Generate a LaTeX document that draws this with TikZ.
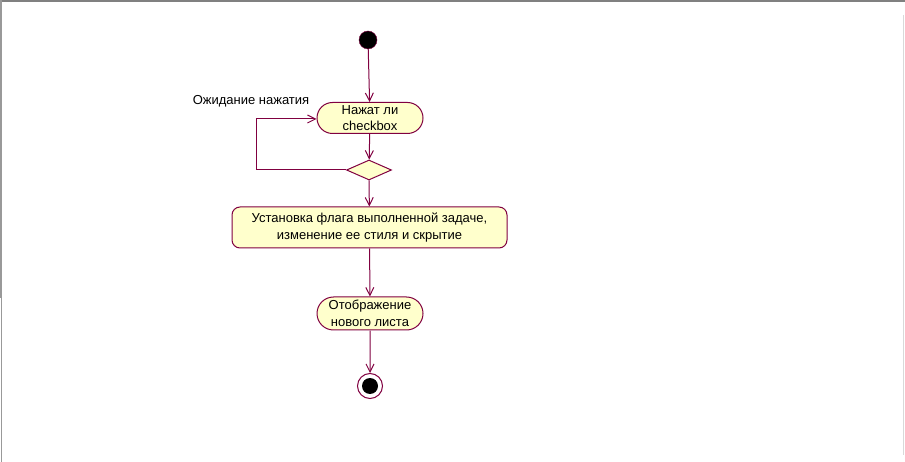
\documentclass[tikz,border=0pt]{standalone}
\usepackage{fontspec}
\setmainfont{Liberation Sans}
\usetikzlibrary{shapes.misc,shapes.geometric,arrows.meta}
\definecolor{roseline}{RGB}{128,0,64}
\definecolor{rosefill}{RGB}{255,255,204}
\tikzset{
  act/.style = {shape = rounded rectangle, draw = roseline, fill = rosefill, line width = 1,
    minimum width = 110, minimum height = 31, align = center, inner sep = 2},
  flow/.style = {draw = roseline, line width = 1, -{Straight Barb[length=8,width=8]}}
}

\begin{document}
\begin{tikzpicture}[x=1pt, y=-1pt, font=\fontsize{13}{16.5}\selectfont]
\useasboundingbox (0,0) rectangle (905,462);
% window frame
\draw[gray, line width=2] (0,1) -- (905,1);
\draw[gray!80, line width=2] (1,0) -- (1,298);
\draw[gray!80, line width=1] (1,298) -- (1,462);
\draw[gray!30, line width=1] (903,15) -- (903,455);

\node[shape = circle, draw = roseline, fill = black, minimum size = 18, inner sep = 0](S) at (368,40) {};
\node[act](N) at (370,118) {Нажат ли\\checkbox};
\node[shape = diamond, draw = roseline, fill = rosefill, line width = 1, minimum width = 45, minimum height = 20, inner sep = 0](D) at (369,170) {};
\node[shape = rectangle, rounded corners = 8, draw = roseline, fill = rosefill, line width = 1, minimum width = 275, minimum height = 41, align = center](U) at (369.5,227.5) {Установка флага выполненной задаче,\\изменение ее стиля и скрытие};
\node[act, minimum height = 33](O) at (370,313.5) {Отображение\\нового листа};
\node[shape = circle, draw = roseline, line width = 1, minimum size = 25, inner sep = 0](E) at (370,386) {};
\node[shape = circle, fill = black, minimum size = 16, inner sep = 0] at (E) {};
\node[anchor = south] at (251,111) {Ожидание нажатия};

\path[flow] (S) -- (N);
\path[flow] (N) -- (D);
\path[flow] (D.west) -- (256,170) -- (256,119) -- (N.west |- 0,119);
\path[flow] (D) -- (U);
\path[flow] (U) -- (O);
\path[flow] (O) -- (E);
\end{tikzpicture}
\end{document}
